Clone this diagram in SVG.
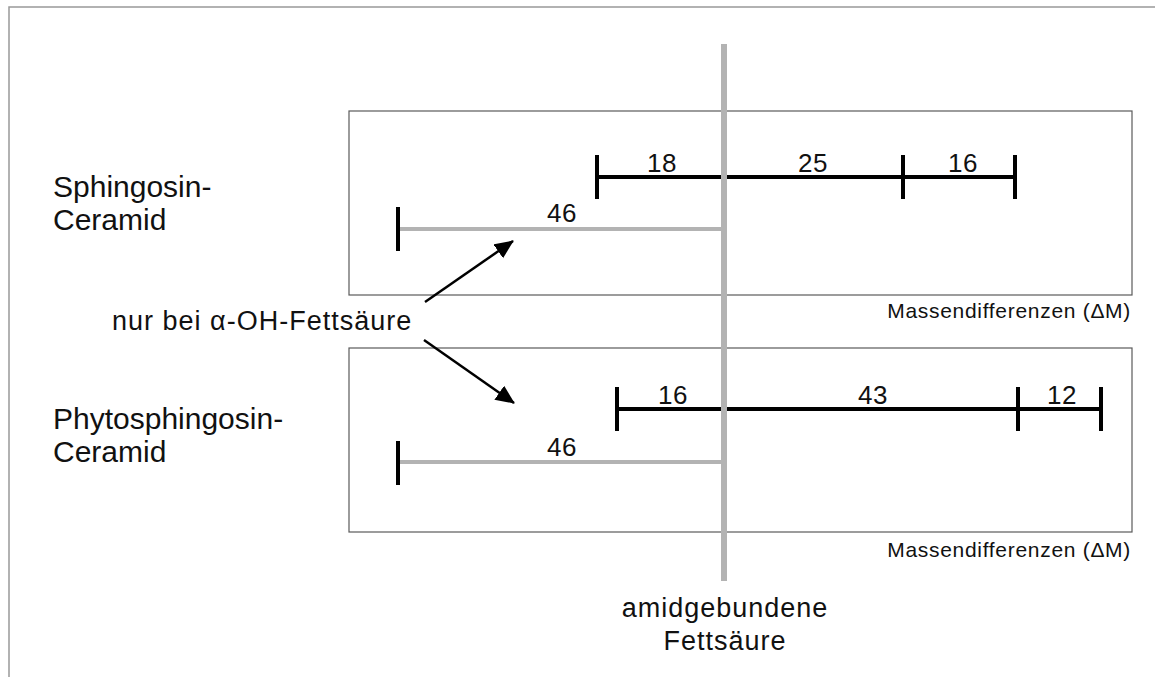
<svg xmlns="http://www.w3.org/2000/svg" width="1155" height="677" viewBox="0 0 1155 677">
<style>
text{font-family:"Liberation Sans",Arial,sans-serif;fill:#111}
.lbl{font-size:30px}
.num{font-size:26px;text-anchor:middle;letter-spacing:0.5px}
.md{font-size:21px;text-anchor:end;letter-spacing:0.7px}
.mid{font-size:27px;text-anchor:middle;letter-spacing:1px}
.box{fill:none;stroke:#5a5a5a;stroke-width:1.2}
.blk{stroke:#000;stroke-width:4;fill:none}
.gry{stroke:#b3b3b3;stroke-width:4;fill:none}
.arr{stroke:#000;stroke-width:2.5;fill:none;marker-end:url(#ah)}
</style>
<defs>
<marker id="ah" markerUnits="userSpaceOnUse" markerWidth="20" markerHeight="18" refX="18" refY="8.5" orient="auto">
<path d="M0,0 L19,8.5 L0,17 Z" fill="#000"/>
</marker>
</defs>
<rect width="1155" height="677" fill="#fff"/>
<rect x="9" y="7" width="1200" height="720" fill="none" stroke="#999" stroke-width="1.5"/>

<g id="sphingosin">
<rect class="box" x="349" y="111" width="783" height="184"/>
<text class="lbl" x="53" y="197">Sphingosin-</text>
<text class="lbl" x="53" y="230">Ceramid</text>
<line class="gry" x1="398" y1="229" x2="724" y2="229"/>
<line class="blk" x1="398" y1="207" x2="398" y2="251"/>
<text class="num" x="562" y="222">46</text>
<line class="blk" x1="597" y1="177" x2="1015" y2="177"/>
<line class="blk" x1="597" y1="155" x2="597" y2="199"/>
<line class="blk" x1="903" y1="155" x2="903" y2="199"/>
<line class="blk" x1="1015" y1="155" x2="1015" y2="199"/>
<text class="num" x="662" y="172">18</text>
<text class="num" x="813" y="172">25</text>
<text class="num" x="963" y="172">16</text>
<text class="md" x="1131" y="318">Massendifferenzen (ΔM)</text>
</g>

<g id="phytosphingosin">
<rect class="box" x="349" y="348" width="783" height="184"/>
<text class="lbl" x="53" y="429">Phytosphingosin-</text>
<text class="lbl" x="53" y="462">Ceramid</text>
<line class="gry" x1="398" y1="462" x2="724" y2="462"/>
<line class="blk" x1="398" y1="441" x2="398" y2="485"/>
<text class="num" x="562" y="456">46</text>
<line class="blk" x1="617" y1="409" x2="1101" y2="409"/>
<line class="blk" x1="617" y1="387" x2="617" y2="431"/>
<line class="blk" x1="1018" y1="387" x2="1018" y2="431"/>
<line class="blk" x1="1101" y1="387" x2="1101" y2="431"/>
<text class="num" x="673" y="404">16</text>
<text class="num" x="873" y="404">43</text>
<text class="num" x="1062" y="404">12</text>
<text class="md" x="1131" y="557">Massendifferenzen (ΔM)</text>
</g>

<g id="fettsaeure">
<line x1="724" y1="44" x2="724" y2="581" stroke="#b3b3b3" stroke-width="6"/>
<text class="mid" x="725" y="617">amidgebundene</text>
<text class="mid" x="725" y="650">Fettsäure</text>
</g>

<g id="hinweis">
<text style="font-size:27px;letter-spacing:1px" x="112" y="330">nur bei α-OH-Fettsäure</text>
</g>

<g id="connectors">
<line class="arr" x1="425" y1="302" x2="513" y2="241"/>
<line class="arr" x1="424" y1="340" x2="514" y2="403"/>
</g>
</svg>
